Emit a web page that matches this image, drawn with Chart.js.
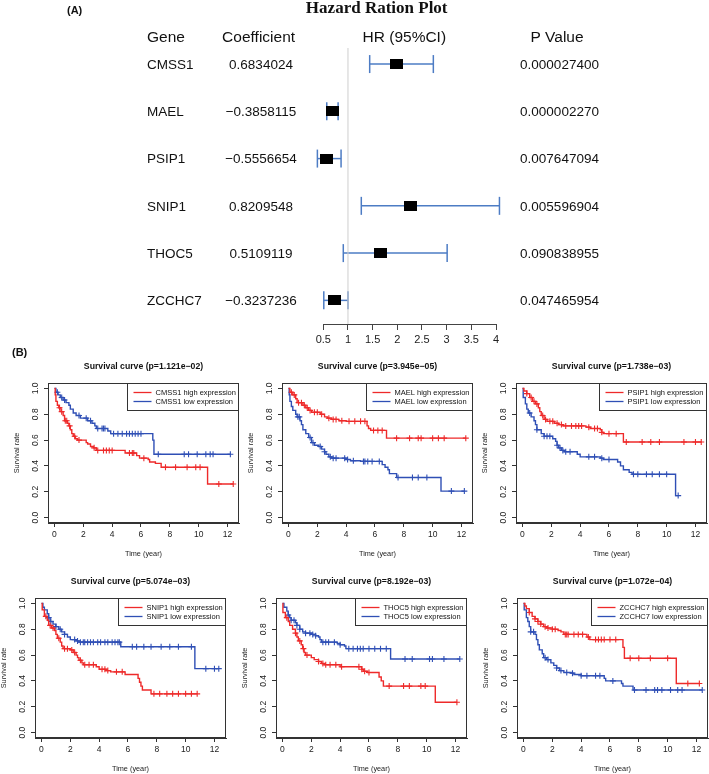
<!DOCTYPE html>
<html>
<head>
<meta charset="utf-8">
<script src="https://cdn.jsdelivr.net/npm/chart.js@4.4.1/dist/chart.umd.min.js"></script>
<style>
  html, body { margin:0; padding:0; background:#fff; }
  body { position:relative; width:709px; height:774px; overflow:hidden; }
  canvas { position:absolute; }
</style>
</head>
<body>
<script>
// ================= Panel A : hazard ratio (forest) plot =================
const plotTitle = 'Hazard Ration Plot';
const panelLabels = ['(A)', '(B)'];
const headers = ['Gene', 'Coefficient', 'HR (95%CI)', 'P Value'];
const genes = ['CMSS1', 'MAEL', 'PSIP1', 'SNIP1', 'THOC5', 'ZCCHC7'];
const coefficients = ['0.6834024', '\u22120.3858115', '\u22120.5556654', '0.8209548', '0.5109119', '\u22120.3237236'];
const hazardRatios = [1.98, 0.68, 0.574, 2.27, 1.667, 0.723];
const ciLower = [1.44, 0.57, 0.38, 1.27, 0.905, 0.51];
const ciUpper = [2.73, 0.80, 0.86, 4.07, 3.01, 1.00];
const pValues = ['0.000027400', '0.000002270', '0.007647094', '0.005596904', '0.090838955', '0.047465954'];
const hrTicks = [0.5, 1, 1.5, 2, 2.5, 3, 3.5, 4];

// ================= Panel B : survival curves =================
const timeTicks = [0, 2, 4, 6, 8, 10, 12];
const survTicks = [0, 0.2, 0.4, 0.6, 0.8, 1.0];
const pLabels = ['1.121e\u221202', '3.945e\u221205', '1.738e\u221203', '5.074e\u221203', '8.192e\u221203', '1.072e\u221204'];

const cmss1HighTime = [0, 0.05, 0.1, 0.2, 0.3, 0.45, 0.6, 0.7, 0.9, 1.0, 1.1, 1.2, 1.3, 1.45, 1.6, 2.2, 2.3, 2.5, 2.7, 2.9, 4.9, 5.7, 5.9, 6.5, 6.6, 7.0, 7.4, 10.62];
const cmss1HighSurv = [1.0, 0.95, 0.90, 0.87, 0.85, 0.82, 0.79, 0.75, 0.73, 0.71, 0.68, 0.65, 0.63, 0.61, 0.60, 0.58, 0.57, 0.55, 0.54, 0.52, 0.50, 0.48, 0.46, 0.45, 0.43, 0.42, 0.39, 0.26];
const cmss1HighCensor = [0.35, 0.5, 0.75, 0.85, 1.05, 1.4, 1.7, 2.75, 3.0, 3.4, 3.6, 3.8, 4.0, 5.2, 5.4, 5.5, 6.2, 7.7, 8.4, 9.2, 9.8, 10.1, 11.4, 12.4];
const cmss1LowTime = [0, 0.1, 0.25, 0.4, 0.6, 0.8, 1.0, 1.1, 1.3, 1.5, 1.8, 2.3, 2.6, 2.8, 2.9, 3.7, 3.9, 6.82, 6.9];
const cmss1LowSurv = [1.0, 0.97, 0.95, 0.93, 0.91, 0.89, 0.87, 0.84, 0.81, 0.79, 0.77, 0.75, 0.73, 0.71, 0.69, 0.67, 0.65, 0.60, 0.49];
const cmss1LowCensor = [0.2, 0.5, 0.7, 1.7, 2.2, 2.5, 3.0, 3.3, 3.4, 3.5, 4.1, 4.4, 4.7, 5.0, 5.2, 5.4, 5.6, 5.8, 6.0, 7.2, 9.0, 9.3, 9.9, 10.5, 10.8, 11.0, 12.2];

const maelHighTime = [0, 0.1, 0.3, 0.5, 0.6, 1.0, 1.2, 1.4, 1.6, 2.2, 2.5, 2.7, 3.0, 3.5, 4.0, 5.45, 5.55, 5.7, 6.8];
const maelHighSurv = [1.0, 0.97, 0.95, 0.92, 0.89, 0.87, 0.85, 0.83, 0.815, 0.80, 0.78, 0.77, 0.76, 0.75, 0.745, 0.71, 0.69, 0.675, 0.615];
const maelHighCensor = [0.2, 0.4, 0.7, 0.9, 1.1, 1.3, 1.5, 1.8, 2.0, 2.3, 2.8, 3.1, 3.3, 3.7, 4.2, 4.6, 5.0, 5.3, 5.9, 6.2, 6.5, 7.5, 8.4, 9.0, 9.2, 10.0, 10.4, 10.8, 12.3];
const maelLowTime = [0, 0.05, 0.1, 0.2, 0.3, 0.5, 0.6, 0.8, 0.9, 1.0, 1.2, 1.4, 1.6, 1.8, 2.1, 2.3, 2.5, 2.6, 2.8, 3.0, 4.0, 4.3, 5.0, 6.5, 6.7, 6.9, 7.0, 7.5, 10.58];
const maelLowSurv = [1.0, 0.95, 0.90, 0.86, 0.83, 0.80, 0.78, 0.75, 0.72, 0.68, 0.65, 0.62, 0.58, 0.56, 0.55, 0.53, 0.51, 0.49, 0.47, 0.46, 0.45, 0.44, 0.435, 0.41, 0.39, 0.37, 0.34, 0.31, 0.205];
const maelLowCensor = [0.65, 0.75, 1.5, 1.7, 2.2, 2.5, 2.9, 3.1, 3.3, 3.9, 4.1, 4.5, 5.2, 5.3, 5.5, 5.8, 6.3, 7.6, 8.6, 9.0, 9.6, 11.3, 12.2];

const psip1HighTime = [0, 0.1, 0.3, 0.5, 0.7, 0.9, 1.1, 1.2, 1.3, 1.5, 1.7, 2.2, 2.5, 2.8, 4.4, 4.7, 5.4, 5.5, 5.6, 7.0];
const psip1HighSurv = [1.0, 0.98, 0.96, 0.93, 0.90, 0.88, 0.85, 0.82, 0.79, 0.76, 0.745, 0.73, 0.72, 0.71, 0.70, 0.69, 0.68, 0.66, 0.65, 0.585];
const psip1HighCensor = [0.3, 0.6, 0.8, 1.0, 1.4, 1.6, 1.9, 2.1, 2.4, 2.7, 3.0, 3.4, 3.7, 3.9, 4.1, 4.6, 5.0, 5.2, 5.5, 6.0, 6.5, 7.2, 8.3, 8.9, 9.5, 11.2, 12.0, 12.4];
const psip1LowTime = [0, 0.05, 0.2, 0.3, 0.4, 0.6, 0.8, 0.9, 1.0, 1.3, 1.5, 2.1, 2.3, 2.4, 2.5, 2.7, 2.9, 3.8, 4.0, 5.4, 5.6, 6.6, 6.8, 7.0, 7.4, 7.6, 10.62];
const psip1LowSurv = [1.0, 0.93, 0.88, 0.84, 0.81, 0.78, 0.75, 0.72, 0.68, 0.65, 0.63, 0.61, 0.59, 0.56, 0.54, 0.52, 0.51, 0.49, 0.47, 0.46, 0.45, 0.43, 0.40, 0.37, 0.35, 0.335, 0.17];
const psip1LowCensor = [0.5, 1.0, 1.5, 1.7, 1.9, 2.4, 2.6, 2.8, 3.0, 3.3, 4.6, 5.0, 5.5, 6.0, 7.7, 8.0, 8.6, 9.0, 9.5, 10.0, 10.8];

const snip1HighTime = [0, 0.05, 0.2, 0.4, 0.5, 0.7, 0.9, 1.0, 1.1, 1.3, 1.4, 1.5, 2.0, 2.2, 2.4, 2.5, 2.6, 2.8, 2.9, 3.8, 4.0, 4.5, 4.8, 5.8, 6.7, 6.8, 6.9, 7.0, 7.6];
const snip1HighSurv = [1.0, 0.95, 0.90, 0.87, 0.83, 0.81, 0.79, 0.76, 0.73, 0.70, 0.67, 0.65, 0.64, 0.62, 0.60, 0.58, 0.56, 0.54, 0.525, 0.51, 0.49, 0.48, 0.47, 0.45, 0.42, 0.39, 0.36, 0.33, 0.30];
const snip1HighCensor = [0.3, 0.6, 0.8, 1.2, 1.6, 1.8, 2.1, 2.3, 2.7, 3.0, 3.3, 3.6, 4.2, 4.4, 4.6, 5.2, 5.6, 7.8, 8.2, 8.7, 9.1, 9.5, 10.0, 10.4, 10.8];
const snip1LowTime = [0, 0.1, 0.2, 0.4, 0.5, 0.6, 0.8, 1.0, 1.2, 1.4, 1.6, 1.8, 2.0, 2.4, 2.6, 5.5, 10.64];
const snip1LowSurv = [1.0, 0.97, 0.95, 0.92, 0.89, 0.86, 0.84, 0.82, 0.80, 0.78, 0.76, 0.74, 0.72, 0.71, 0.70, 0.665, 0.495];
const snip1LowCensor = [0.5, 0.65, 1.0, 1.3, 1.6, 2.3, 2.5, 2.7, 2.9, 3.0, 3.2, 3.4, 3.6, 3.9, 4.1, 4.4, 4.6, 4.9, 5.1, 5.3, 5.4, 6.3, 6.6, 7.1, 7.6, 8.3, 8.9, 9.5, 10.4, 11.4, 12.0, 12.3];

const thoc5HighTime = [0, 0.03, 0.2, 0.4, 0.5, 0.7, 0.9, 1.0, 1.1, 1.3, 1.4, 1.5, 1.6, 2.0, 2.2, 2.5, 2.7, 2.9, 4.0, 5.5, 5.6, 5.9, 6.7, 6.85, 7.0, 10.6];
const thoc5HighSurv = [1.0, 0.93, 0.89, 0.86, 0.83, 0.80, 0.77, 0.74, 0.71, 0.68, 0.65, 0.62, 0.60, 0.58, 0.565, 0.55, 0.535, 0.525, 0.51, 0.49, 0.475, 0.465, 0.43, 0.40, 0.36, 0.235];
const thoc5HighCensor = [0.3, 0.9, 1.2, 1.45, 1.7, 2.5, 2.8, 3.0, 3.3, 3.7, 4.1, 5.3, 5.5, 5.7, 6.0, 7.4, 8.4, 8.8, 9.6, 9.9, 12.1];
const thoc5LowTime = [0, 0.1, 0.3, 0.4, 0.5, 0.6, 0.9, 1.0, 1.2, 1.4, 1.6, 2.0, 2.3, 2.5, 2.6, 2.7, 3.8, 4.0, 4.3, 4.4, 7.5];
const thoc5LowSurv = [1.0, 0.97, 0.94, 0.91, 0.89, 0.87, 0.85, 0.83, 0.80, 0.78, 0.77, 0.76, 0.75, 0.74, 0.72, 0.70, 0.69, 0.68, 0.67, 0.65, 0.57];
const thoc5LowCensor = [0.4, 0.6, 0.8, 1.0, 1.2, 1.6, 1.9, 2.1, 2.3, 2.8, 3.0, 3.2, 3.6, 4.0, 4.6, 4.9, 5.2, 5.4, 5.6, 6.0, 6.4, 6.8, 7.2, 8.5, 9.0, 10.2, 10.4, 11.2, 12.3];

const zcchc7HighTime = [0, 0.1, 0.2, 0.4, 0.6, 0.8, 1.0, 1.2, 1.4, 1.6, 2.0, 2.4, 2.6, 2.8, 4.4, 4.6, 6.9, 7.0, 10.6];
const zcchc7HighSurv = [1.0, 0.98, 0.96, 0.93, 0.90, 0.88, 0.86, 0.84, 0.82, 0.81, 0.80, 0.79, 0.78, 0.76, 0.74, 0.72, 0.66, 0.575, 0.38];
const zcchc7HighCensor = [0.4, 0.8, 1.0, 1.2, 1.5, 1.7, 2.0, 2.2, 2.9, 3.0, 3.1, 3.5, 3.8, 4.1, 4.5, 5.0, 5.2, 5.4, 5.6, 6.0, 6.4, 7.4, 8.0, 8.8, 10.0, 11.4, 12.2];
const zcchc7LowTime = [0, 0.05, 0.2, 0.3, 0.4, 0.5, 0.8, 0.9, 1.0, 1.1, 1.3, 1.4, 1.6, 1.9, 2.1, 2.3, 2.5, 2.8, 3.3, 3.5, 4.0, 5.6, 5.7, 6.8, 6.9, 7.6];
const zcchc7LowSurv = [1.0, 0.95, 0.89, 0.86, 0.82, 0.78, 0.76, 0.72, 0.68, 0.64, 0.61, 0.58, 0.565, 0.54, 0.52, 0.50, 0.48, 0.465, 0.46, 0.45, 0.44, 0.42, 0.40, 0.38, 0.36, 0.33];
const zcchc7LowCensor = [0.5, 0.7, 1.5, 1.7, 2.3, 2.6, 3.0, 3.4, 4.0, 4.4, 5.0, 5.3, 6.2, 7.7, 8.5, 9.1, 9.3, 9.6, 10.2, 10.7, 11.0, 12.4];

// ================= rendering =================
Chart.defaults.font.family = '"Liberation Sans", Arial, sans-serif';
Chart.defaults.animation = false;
Chart.defaults.events = [];

const FONT = '"Liberation Sans", Arial, sans-serif';
const CI_BLUE = '#4d7cc4';
const RED = '#ee2a2a';
const BLUE = '#2f4fb5';
const AXIS = '#333';

function makeCanvas(left, top, w, h) {
  const c = document.createElement('canvas');
  c.width = w; c.height = h;
  c.style.left = left + 'px'; c.style.top = top + 'px';
  c.style.width = w + 'px'; c.style.height = h + 'px';
  document.body.appendChild(c);
  return c;
}

// ---------- forest plot ----------
const rowValue = i => genes.length - i;   // CMSS1 at top

const boxMark = document.createElement('canvas');
boxMark.width = 13; boxMark.height = 10;
(function () { const b = boxMark.getContext('2d'); b.fillStyle = '#000'; b.fillRect(0, 0, 13, 10); })();

const forestText = {
  id: 'forestText',
  afterDraw(chart) {
    const ctx = chart.ctx, ys = chart.scales.y;
    ctx.save();
    ctx.fillStyle = '#111';
    ctx.textBaseline = 'alphabetic';
    ctx.font = 'bold 17px "Liberation Serif", "Times New Roman", serif';
    ctx.textAlign = 'center';
    ctx.fillText(plotTitle, 376.7, 12.5);
    ctx.font = 'bold 11px ' + FONT;
    ctx.textAlign = 'left';
    ctx.fillText(panelLabels[0], 67, 14);
    ctx.fillText(panelLabels[1], 12, 355.5);
    ctx.font = '15.5px ' + FONT;
    ctx.fillText(headers[0], 147, 41.5);
    ctx.textAlign = 'center';
    ctx.fillText(headers[1], 258.6, 41.5);
    ctx.fillText(headers[2], 404.3, 41.5);
    ctx.fillText(headers[3], 557, 41.5);
    ctx.font = '13.5px ' + FONT;
    genes.forEach((g, i) => {
      const y = ys.getPixelForValue(rowValue(i)) + 4.7;
      ctx.textAlign = 'left';
      ctx.fillText(g, 147, y);
      ctx.textAlign = 'center';
      ctx.fillText(coefficients[i], 261, y);
      ctx.fillText(pValues[i], 559.5, y);
    });
    ctx.restore();
  }
};

(function buildForest() {
  const W = 709, H = 362;
  const cv = makeCanvas(0, 0, W, H);
  const datasets = [];
  datasets.push({
    type: 'scatter', showLine: true, data: [{ x: 1, y: 0.5 }, { x: 1, y: 6.34 }],
    borderColor: '#cfcfcf', borderWidth: 1, pointRadius: 0, clip: false
  });
  genes.forEach((g, i) => {
    datasets.push({
      type: 'scatter', showLine: true,
      data: [{ x: ciLower[i], y: rowValue(i) }, { x: ciUpper[i], y: rowValue(i) }],
      borderColor: CI_BLUE, borderWidth: 1.5,
      pointStyle: 'line', pointRotation: 90, pointRadius: 9,
      pointBorderColor: CI_BLUE, pointBorderWidth: 1.5, clip: false
    });
  });
  datasets.unshift({
    type: 'scatter',
    data: genes.map((g, i) => ({ x: hazardRatios[i], y: rowValue(i) })),
    pointStyle: boxMark, pointRadius: 7, clip: false
  });
  new Chart(cv, {
    type: 'scatter',
    data: { datasets },
    options: {
      responsive: false,
      layout: { padding: { left: 323.3, right: W - 496, top: 48, bottom: H - 324 - 30 } },
      plugins: { legend: { display: false }, tooltip: { enabled: false } },
      scales: {
        x: {
          type: 'linear', min: 0.5, max: 4,
          afterBuildTicks: s => { s.ticks = hrTicks.map(v => ({ value: v })); },
          afterFit: s => { s.height = 30; },
          border: { display: true, color: '#444', width: 1 },
          grid: { display: true, drawOnChartArea: false, drawTicks: true, tickLength: 6, color: '#444' },
          ticks: { font: { size: 11, family: FONT }, color: '#222', padding: 3.5, maxRotation: 0, autoSkip: false, callback: v => String(v) }
        },
        y: { display: false, min: 0.5, max: 6.34 }
      }
    },
    plugins: [forestText]
  });
})();

// ---------- survival curves ----------
function stepAt(t, times, surv) {
  let v = surv[0];
  for (let i = 0; i < times.length; i++) if (times[i] <= t) v = surv[i];
  return v;
}
function curvePoints(times, surv, censor) {
  const pts = times.map((t, i) => ({ x: t, y: surv[i] }));
  censor.forEach(t => pts.push({ x: t, y: stepAt(t, times, surv) }));
  pts.sort((a, b) => a.x - b.x);
  return pts;
}
function censorPoints(times, surv, censor) {
  return censor.map(t => ({ x: t, y: stepAt(t, times, surv) }));
}

const kmDecor = {
  id: 'kmDecor',
  afterDraw(chart, args, opts) {
    const { ctx, chartArea: a } = chart;
    ctx.save();
    ctx.strokeStyle = AXIS; ctx.lineWidth = 1;
    ctx.strokeRect(a.left + 0.5, a.top + 0.5, a.right - a.left - 1, a.bottom - a.top - 1);
    ctx.fillStyle = '#111';
    ctx.font = 'bold 8.7px ' + FONT;
    ctx.textAlign = 'center'; ctx.textBaseline = 'alphabetic';
    ctx.fillText(opts.title, (a.left + a.right) / 2, a.top - 14.5);
    const ds = chart.data.datasets.slice(0, 2);
    ctx.font = '7.5px ' + FONT;
    const tw = Math.max(...ds.map(d => ctx.measureText(d.label).width));
    const w = 6 + 18 + 4 + tw + 4, h = 27;
    const lx = Math.round(a.right - w) + 0.5, ly = a.top + 0.5;
    ctx.fillStyle = '#fff';
    ctx.fillRect(lx, ly, w, h);
    ctx.strokeStyle = AXIS; ctx.lineWidth = 1;
    ctx.strokeRect(lx, ly, a.right - 0.5 - lx, h);
    ds.forEach((d, i) => {
      const y = ly + 9 + 9 * i;
      ctx.strokeStyle = d.borderColor; ctx.lineWidth = 1.3;
      ctx.beginPath(); ctx.moveTo(lx + 6, y); ctx.lineTo(lx + 24, y); ctx.stroke();
      ctx.fillStyle = '#111'; ctx.textAlign = 'left'; ctx.textBaseline = 'middle';
      ctx.fillText(d.label, lx + 28, y + 0.5);
    });
    ctx.restore();
  }
};

const kmPanels = [
  { gene: 'CMSS1', p: pLabels[0], hi: [cmss1HighTime, cmss1HighSurv, cmss1HighCensor], lo: [cmss1LowTime, cmss1LowSurv, cmss1LowCensor] },
  { gene: 'MAEL', p: pLabels[1], hi: [maelHighTime, maelHighSurv, maelHighCensor], lo: [maelLowTime, maelLowSurv, maelLowCensor] },
  { gene: 'PSIP1', p: pLabels[2], hi: [psip1HighTime, psip1HighSurv, psip1HighCensor], lo: [psip1LowTime, psip1LowSurv, psip1LowCensor] },
  { gene: 'SNIP1', p: pLabels[3], hi: [snip1HighTime, snip1HighSurv, snip1HighCensor], lo: [snip1LowTime, snip1LowSurv, snip1LowCensor] },
  { gene: 'THOC5', p: pLabels[4], hi: [thoc5HighTime, thoc5HighSurv, thoc5HighCensor], lo: [thoc5LowTime, thoc5LowSurv, thoc5LowCensor] },
  { gene: 'ZCCHC7', p: pLabels[5], hi: [zcchc7HighTime, zcchc7HighSurv, zcchc7HighCensor], lo: [zcchc7LowTime, zcchc7LowSurv, zcchc7LowCensor] }
];
// plot-region placement (layout only)
const kmBoxes = [
  { l: 48, t: 383 }, { l: 282, t: 383 }, { l: 516, t: 383 },
  { l: 35, t: 598 }, { l: 276, t: 598 }, { l: 517, t: 598 }
];
const BOX_W = 191, BOX_H = 140, M_L = 40, M_R = 40, M_T = 32, M_B = 42;

kmPanels.forEach((pn, k) => {
  const b = kmBoxes[k];
  const W = BOX_W + M_L + M_R, H = BOX_H + M_T + M_B;
  const cv = makeCanvas(b.l - M_L, b.t - M_T, W, H);
  const lineDs = (label, color, d) => ({
    label, showLine: true, stepped: true, data: curvePoints(d[0], d[1], d[2]),
    borderColor: color, borderWidth: 1.4, pointRadius: 0
  });
  const censDs = (color, d) => ({
    showLine: false, data: censorPoints(d[0], d[1], d[2]),
    pointStyle: 'cross', pointRadius: 3, pointBorderColor: color, pointBorderWidth: 1.1, backgroundColor: color
  });
  new Chart(cv, {
    type: 'scatter',
    data: {
      datasets: [
        lineDs(pn.gene + ' high expression', RED, pn.hi),
        lineDs(pn.gene + ' low expression', BLUE, pn.lo),
        censDs(RED, pn.hi),
        censDs(BLUE, pn.lo)
      ]
    },
    options: {
      responsive: false,
      layout: { padding: { left: 4.5, right: M_R, top: M_T, bottom: M_B - 35 } },
      plugins: { legend: { display: false }, tooltip: { enabled: false }, kmDecor: { title: 'Survival curve (p=' + pn.p + ')' } },
      scales: {
        x: {
          type: 'linear', min: -0.45, max: 12.8,
          afterBuildTicks: s => { s.ticks = timeTicks.map(v => ({ value: v })); },
          afterFit: s => { s.height = 35; },
          border: { display: true, color: AXIS, width: 1 },
          grid: { display: true, drawOnChartArea: false, drawTicks: true, tickLength: 4, color: AXIS },
          ticks: { font: { size: 8.5, family: FONT }, color: '#222', padding: 3, maxRotation: 0, autoSkip: false },
          title: { display: true, text: 'Time (year)', font: { size: 7.3, family: FONT }, color: '#222', padding: 0 }
        },
        y: {
          type: 'linear', min: -0.042, max: 1.042,
          afterBuildTicks: s => { s.ticks = survTicks.map(v => ({ value: v })); },
          afterFit: s => { s.width = M_L - 4.5; },
          border: { display: true, color: AXIS, width: 1 },
          grid: { display: true, drawOnChartArea: false, drawTicks: true, tickLength: 4, color: AXIS },
          ticks: { font: { size: 8.5, family: FONT }, color: '#222', padding: 2.5, minRotation: 90, maxRotation: 90, crossAlign: 'center', autoSkip: false, callback: v => Number(v).toFixed(1) },
          title: { display: true, text: 'Survival rate', font: { size: 7.3, family: FONT }, color: '#222', padding: 0 }
        }
      }
    },
    plugins: [kmDecor]
  });
});
</script>
</body>
</html>
